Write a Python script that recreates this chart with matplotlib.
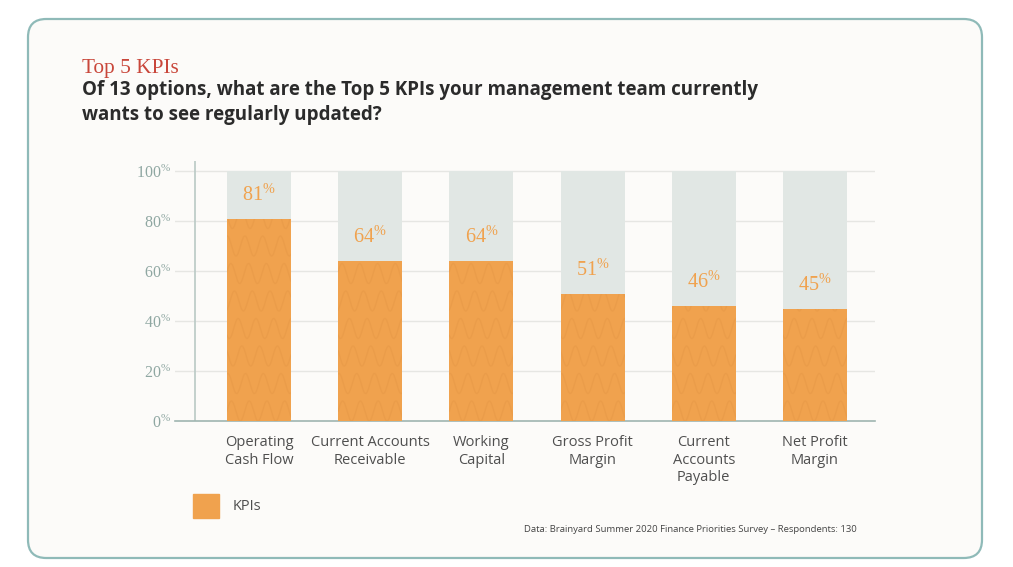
import matplotlib.pyplot as plt
import numpy as np
from matplotlib.patches import FancyBboxPatch

categories = ["Operating\nCash Flow", "Current Accounts\nReceivable", "Working\nCapital",
              "Gross Profit\nMargin", "Current\nAccounts\nPayable", "Net Profit\nMargin"]
values = [81, 64, 64, 51, 46, 45]
yticks = [0, 20, 40, 60, 80, 100]

ORANGE = "#f0a24e"
TRACK = "#e1e7e4"
AXIS = "#9fb5b0"
W, H = 1013, 567

fig = plt.figure(figsize=(W / 100, H / 100), dpi=100)
fig.patch.set_facecolor("white")

# rounded card
card = FancyBboxPatch((28 / W, 1 - 558 / H), (982 - 28) / W, (558 - 19) / H,
                      boxstyle="round,pad=0,rounding_size=0.018",
                      transform=fig.transFigure, facecolor="#fcfbf9",
                      edgecolor="#8fbab8", lw=1.6, mutation_aspect=W / H, zorder=-5)
fig.patches.append(card)

fig.text(82 / W, 1 - 69 / H, "Top 5 KPIs", family="Liberation Serif",
         fontsize=15.3, color="#c9473b", va="center")
fig.text(82 / W, 1 - 90 / H,
         "Of 13 options, what are the Top 5 KPIs your management team currently",
         family="Open Sans", weight="bold", fontsize=13.5, color="#2b2b2b", va="center")
fig.text(82 / W, 1 - 115 / H, "wants to see regularly updated?",
         family="Open Sans", weight="bold", fontsize=13.5, color="#2b2b2b", va="center")

ax = fig.add_axes([175 / W, 1 - 421 / H, 700 / W, 260 / H])
ax.set_facecolor("none")
x = np.arange(len(categories))
width = 0.575
ax.set_xlim(-0.755, 5.54)
ax.set_ylim(0, 104)

for t in yticks[1:]:
    ax.axhline(t, color="#e6e6e3", lw=1, zorder=0)
ax.axvline(-0.576, color="#b9c9c5", lw=1.2, zorder=1)

ax.bar(x, [100] * len(x), width=width, color=TRACK, zorder=2)
bars = ax.bar(x, values, width=width, color=ORANGE, zorder=3)

# squiggle texture
for b in bars:
    x0, w, h = b.get_x(), b.get_width(), b.get_height()
    xs = np.linspace(x0, x0 + w, 200)
    for i, base in enumerate(np.arange(4, h + 6, 11)):
        ys = base + 4.0 * np.sin((xs - x0) / w * 2 * np.pi * 3.6 + i * 1.3)
        ln, = ax.plot(xs, ys, color="#d98b3c", lw=1.0, alpha=0.22, zorder=4)
        ln.set_clip_path(b)

for xi, v in zip(x, values):
    ax.text(xi, v + 9.5, r"$\mathregular{%d^{\%%}}$" % v, ha="center", va="center",
            family="Liberation Serif", fontsize=14.5, color=ORANGE, zorder=5)

for s in ["top", "right", "left"]:
    ax.spines[s].set_visible(False)
ax.spines["bottom"].set_color(AXIS)
ax.spines["bottom"].set_linewidth(1.2)

ax.set_yticks(yticks)
ax.set_yticklabels([r"$\mathregular{%d^{\%%}}$" % t for t in yticks],
                   family="Liberation Serif", fontsize=11.5, color="#8fa7a2")
ax.tick_params(axis="y", length=0, pad=3)
ax.set_xticks(x)
ax.set_xticklabels(categories, family="Open Sans", fontsize=10.5, color="#4f4f4f",
                   linespacing=1.25)
ax.tick_params(axis="x", length=0, pad=10)

# legend
fig.patches.append(plt.Rectangle((193 / W, 1 - 518 / H), 26 / W, 24 / H,
                                 transform=fig.transFigure, color=ORANGE))
fig.text(233 / W, 1 - 506 / H, "KPIs", family="Open Sans", fontsize=10.5,
         color="#4f4f4f", va="center")

fig.text(857 / W, 1 - 529 / H,
         "Data: Brainyard Summer 2020 Finance Priorities Survey \u2013 Respondents: 130",
         family="Open Sans", fontsize=6.8, color="#444444", ha="right", va="center")

fig.savefig("out.png", dpi=100)
